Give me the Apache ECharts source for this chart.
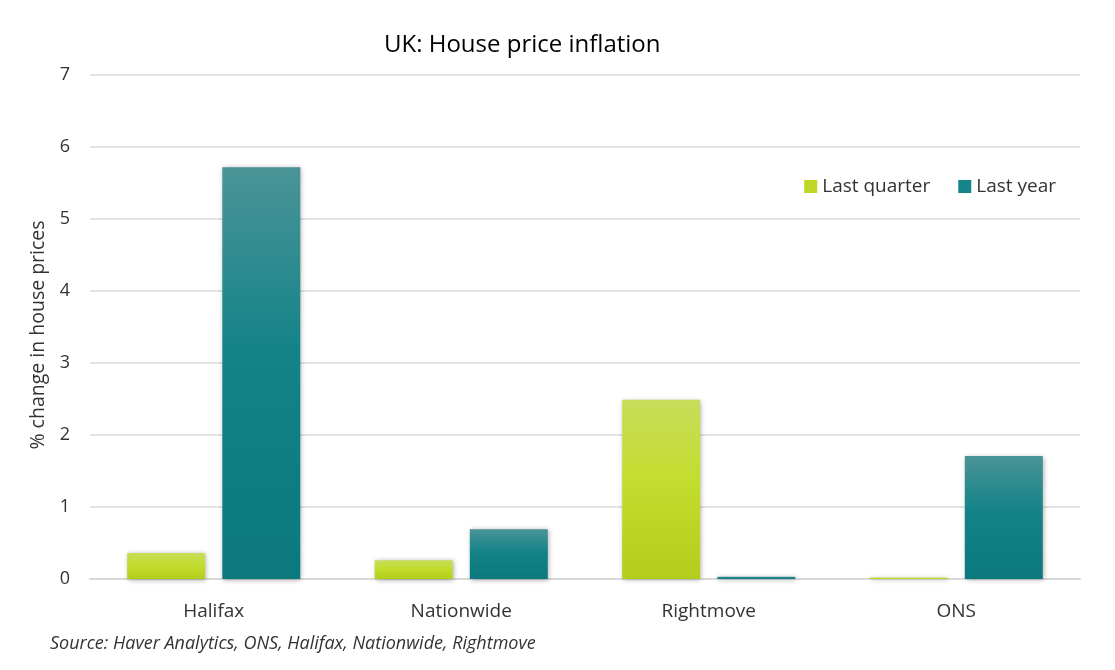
<!DOCTYPE html>
<html><head><meta charset="utf-8">
<script src="https://cdn.jsdelivr.net/npm/echarts@6/dist/echarts.min.js"></script>
<style>html,body{margin:0;padding:0;background:#fff}#c{width:1115px;height:670px}</style>
</head><body><div id="c"></div>
<script>
const categories = ['Halifax', 'Nationwide', 'Rightmove', 'ONS'];
const lastQuarter = [0.36, 0.26, 2.49, 0.02];
const lastYear = [5.72, 0.69, 0.03, 1.71];
const yTicks = [0, 1, 2, 3, 4, 5, 6, 7];

const FONT = '"Open Sans", "Noto Sans", sans-serif';
const greenGrad = new echarts.graphic.LinearGradient(0, 0, 0, 1, [
  {offset: 0, color: '#c8dc5a'}, {offset: 0.45, color: '#c3dd2e'}, {offset: 1, color: '#b4cd1c'}]);
const tealGrad = new echarts.graphic.LinearGradient(0, 0, 0, 1, [
  {offset: 0, color: '#4a9497'}, {offset: 0.45, color: '#138388'}, {offset: 1, color: '#0b797e'}]);
const shadow = {shadowBlur: 5, shadowColor: 'rgba(0,0,0,0.35)', shadowOffsetX: 1, shadowOffsetY: 1};

const chart = echarts.init(document.getElementById('c'), null, {renderer: 'canvas'});
chart.setOption({
  animation: false,
  textStyle: {fontFamily: FONT},
  title: {text: 'UK: House price inflation', left: 379, top: 28,
    textStyle: {fontFamily: FONT, fontSize: 24, fontWeight: 'normal', color: '#000'}},
  legend: {right: 54, top: 172, itemWidth: 13, itemHeight: 13, itemGap: 28, icon: 'rect',
    textStyle: {fontFamily: FONT, fontSize: 19, color: '#333'},
    data: [{name: 'Last quarter', itemStyle: {color: '#bfd625'}}, {name: 'Last year', itemStyle: {color: '#16858a'}}]},
  grid: {left: 90, right: 35, top: 75, bottom: 91, containLabel: false},
  xAxis: {type: 'category', data: categories,
    axisLine: {lineStyle: {color: '#d9d9d9', width: 2}}, axisTick: {show: false},
    axisLabel: {fontFamily: FONT, fontSize: 19, color: '#333', margin: 23}},
  yAxis: {type: 'value', min: yTicks[0], max: yTicks[yTicks.length - 1], interval: 1,
    name: '% change in house prices', nameLocation: 'middle', nameGap: 27, nameRotate: 90,
    nameTextStyle: {fontFamily: FONT, fontSize: 19.5, color: '#333', padding: [0, 16, 0, 0]},
    axisLine: {show: false}, axisTick: {show: false},
    axisLabel: {fontFamily: FONT, fontSize: 18, color: '#333', margin: 20},
    splitLine: {lineStyle: {color: '#d9d9d9', width: 1.5}}},
  series: [
    {name: 'Last quarter', type: 'bar', data: lastQuarter, barWidth: '31.5%', barGap: '22%',
      itemStyle: Object.assign({color: greenGrad}, shadow)},
    {name: 'Last year', type: 'bar', data: lastYear, barWidth: '31.5%', barGap: '22%',
      itemStyle: Object.assign({color: tealGrad}, shadow)}
  ],
  graphic: [{type: 'text', left: 50, top: 635,
    style: {text: 'Source: Haver Analytics, ONS, Halifax, Nationwide, Rightmove',
      font: 'italic 18px ' + FONT, fill: '#333'}}]
});
</script></body></html>
